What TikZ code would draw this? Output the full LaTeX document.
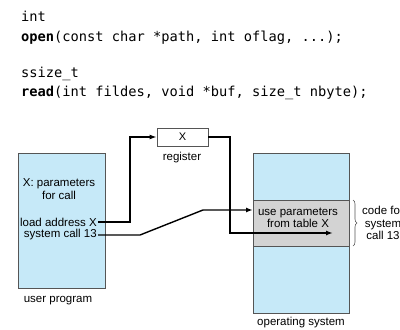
\documentclass[tikz,border=0pt]{standalone}
\usepackage{fontspec}
\setmainfont{Liberation Sans}
\setmonofont{DejaVu Sans Mono}
\usetikzlibrary{arrows.meta,decorations.pathreplacing}
\definecolor{boxblue}{HTML}{C6E9F8}
\definecolor{boxgray}{HTML}{D3D3D3}
\definecolor{edgegray}{HTML}{555555}
\begin{document}
\begin{tikzpicture}[x=1pt,y=-1pt,
  codeline/.style={anchor=base west,inner sep=0pt,font=\ttfamily\fontsize{13.7}{16}\selectfont},
  lbl/.style={inner sep=1pt,font=\fontsize{11.5}{12.3}\selectfont,align=center},
  blk/.style={draw=edgegray,line width=0.8pt,inner sep=0pt},
  conn/.style={line width=1.4pt,black},
  tip/.style={-{Latex[length=7pt,width=5pt]}}]
\useasboundingbox (0,0) rectangle (400,330);
% code
\node[codeline] (c1) at (21,21) {int};
\node[codeline] (c2) at (21,41) {\textbf{open}(const char *path, int oflag, ...);};
\node[codeline] (c3) at (21,77) {ssize\_t};
\node[codeline] (c4) at (21,96) {\textbf{read}(int fildes, void *buf, size\_t nbyte);};
% user program
\node[blk,fill=boxblue,minimum width=87pt,minimum height=135pt] (user) at (61.5,220.5) {};
\node[lbl] (xp) at (59,189) {X: parameters\\for call};
\node[lbl,anchor=east] (la) at (98,222) {load address X};
\node[lbl,anchor=east] (sc) at (98,235) {system call 13};
\node[lbl] (up) at (58,301) {user program};
% register
\node[blk,fill=white,minimum width=51pt,minimum height=18pt,font=\fontsize{11}{12}\selectfont] (reg) at (182.5,137) {X};
\node[lbl] (regl) at (182,158) {register};
% operating system
\node[blk,fill=boxblue,minimum width=96pt,minimum height=160pt] (os) at (301,233) {};
\node[blk,fill=boxgray,minimum width=96pt,minimum height=46pt] (mid) at (301,223) {};
\node[lbl] (usep) at (298,217.5) {use parameters\\from table X};
\node[lbl] (osl) at (301,323) {operating system};
\draw[decorate,decoration={brace,amplitude=4pt},edgegray,line width=0.6pt] (353,200) -- (353,246);
\node[lbl] (code) at (383,223) {code for\\system\\call 13};
% connectors
\coordinate (k1) at (130,222);
\draw[conn,tip] (la.east) -- (k1) |- (reg.west);
\coordinate (k2) at (230,137);
\coordinate (k3) at (230,233);
\coordinate (t2) at (333,233);
\draw[conn,tip] (reg.east) -- (k2) -- (k3) -- (t2);
\coordinate (k4) at (140,235);
\coordinate (k5) at (203,210);
\coordinate (t1) at (253,210);
\draw[conn,tip] (sc.east) -- (k4) -- (k5) -- (t1);
\end{tikzpicture}
\end{document}
